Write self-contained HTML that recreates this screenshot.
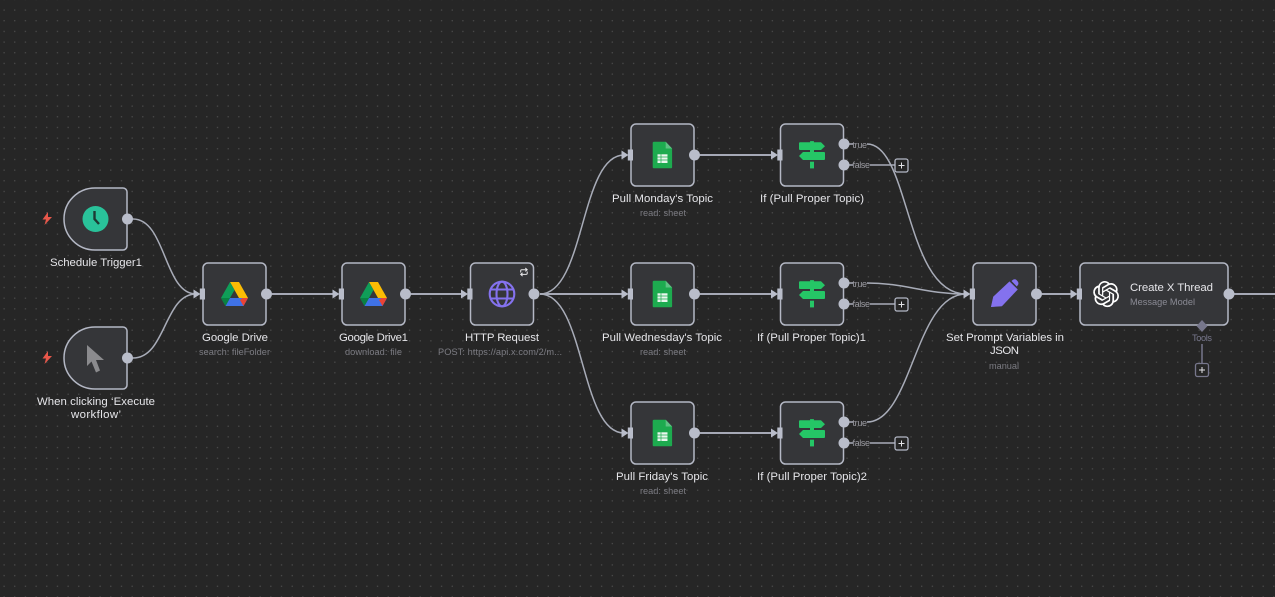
<!DOCTYPE html>
<html><head><meta charset="utf-8"><style>
html,body{margin:0;padding:0;background:#262626;width:1275px;height:597px;overflow:hidden}
svg{display:block}
text{font-family:"Liberation Sans",sans-serif}
.n{fill:#353639;stroke:#b4b8c5;stroke-width:1.5}
.l{font-size:11.4px;fill:#e6e6ea;text-anchor:middle}
.s{font-size:9.2px;fill:#7c7c83;text-anchor:middle}
.e{fill:none;stroke:#a8acb8;stroke-width:1.5}
.b{fill:none;stroke:#a6a9b6;stroke-width:2}
.p{fill:#b9bdca}
.o{font-size:9px;fill:#9c9ca3}
</style></head><body>
<svg width="1275" height="597" viewBox="0 0 1275 597" xmlns="http://www.w3.org/2000/svg">
<defs>
<pattern id="d" x="3.4" y="9.4" width="10.67" height="10.67" patternUnits="userSpaceOnUse"><circle cx="0.7" cy="0.7" r="0.65" fill="#525252"/></pattern>
<g id="inp"><path d="M-9 -4.500L-2 0L-9 4.500Z" fill="#b9bdca"/><rect x="-2.700" y="-5.500" width="5.200" height="11" fill="#b9bdca"/></g>
<g id="drive">
<path d="M-4.500 -12H4.500L13.500 4H4.500Z" fill="#fbbc04"/>
<path d="M-13.500 4L-4.500 -12L0 -4L-9 12Z" fill="#0f9d58"/>
<path d="M-4.500 4H13.500L9 12H-9Z" fill="#3f72e6"/>
<path d="M8 4H13.500L9 12L5.500 6Z" fill="#ea4335"/>
<path d="M-13.500 4L-9 12L-4.500 4Z" fill="#0a8043"/>
</g>
<g id="sheet">
<path d="M-8.500 -13.300a1.300 1.300 0 0 0 -1.300 1.300V12a1.300 1.300 0 0 0 1.300 1.300H8.300a1.300 1.300 0 0 0 1.300 -1.300V-6.500L3.200 -13.300Z" fill="#1dab4f"/>
<path d="M3.200 -13.300L9.600 -6.500H3.200Z" fill="#5fc183"/>
<rect x="-5" y="-0.700" width="10" height="8.700" fill="#e9f6ee"/>
<path d="M-5 2H5M-5 5H5M-1.500 -0.700V8" stroke="#1dab4f" stroke-width=".7"/>
</g>
<g id="sign" fill="#25c666">
<path d="M-12 -12.700H9L13 -8.800L9 -5H-12Q-13 -5 -13 -6V-11.700Q-13 -12.700 -12 -12.700Z"/>
<path d="M12 -3H-9L-13 1L-9 5H12Q13 5 13 4V-2Q13 -3 12 -3Z"/>
<rect x="-2" y="6.700" width="4" height="6.700"/>
<rect x="-2" y="-5" width="4" height="2"/>
<rect x="-2" y="-13.900" width="4" height="1.500" rx=".6"/>
</g>
</defs>
<rect width="1275" height="597" fill="#262626"/>
<rect width="1275" height="597" fill="url(#d)"/>

<!-- edges -->
<path class="e" d="M133 219C166 219 164 294 196 294"/>
<path class="e" d="M133 358C166 358 164 294 196 294"/>
<path class="b" d="M272 294H335"/>
<path class="b" d="M411 294H464"/>
<path class="e" d="M540 294C585 294 580 155 624 155"/>
<path class="b" d="M540 294H624"/>
<path class="e" d="M540 294C585 294 580 433 624 433"/>
<path class="b" d="M700 155H773"/>
<path class="b" d="M700 294H773"/>
<path class="b" d="M700 433H773"/>
<path class="e" d="M849 144H853M867 144C910 144 905 294 966 294"/>
<path class="e" d="M849 283H853M867 283C905 283 925 294 966 294" stroke-width="2"/>
<path class="e" d="M849 422H853M867 422C912 422 915 294 966 294"/>
<path class="e" d="M849 165H853M870 165H895"/>
<path class="e" d="M849 304H853M870 304H895"/>
<path class="e" d="M849 443H853M870 443H895"/>
<path class="b" d="M1042 294H1073"/>
<path class="b" d="M1234 294H1275"/>
<path d="M1202 344V363" stroke="#77778c" stroke-width="1.500"/>

<!-- trigger nodes -->
<path class="n" d="M95 188H123a4 4 0 0 1 4 4V246a4 4 0 0 1-4 4H95a31 31 0 0 1-31-31a31 31 0 0 1 31-31Z"/>
<path class="n" d="M95 327H123a4 4 0 0 1 4 4V385a4 4 0 0 1-4 4H95a31 31 0 0 1-31-31a31 31 0 0 1 31-31Z"/>
<circle cx="95.500" cy="219" r="13" fill="#29c29a"/>
<path d="M94.500 211V219L99 224" fill="none" stroke="#1d3a34" stroke-width="2.400"/>
<path d="M87 345L87 366L91.500 361.500L96 372.500L100 370.500L96 360H104Z" fill="#8b8b8e"/>
<path d="M48 212L42.500 219.500H46L44.500 225L52 217H48Z" fill="#e8574a"/>
<path d="M48 351L42.500 358.500H46L44.500 364L52 356H48Z" fill="#e8574a"/>

<!-- square nodes -->
<rect class="n" x="203" y="263" width="63" height="62" rx="5"/>
<rect class="n" x="342" y="263" width="63" height="62" rx="5"/>
<rect class="n" x="470.500" y="263" width="63" height="62" rx="5"/>
<rect class="n" x="631" y="124" width="63" height="62" rx="5"/>
<rect class="n" x="631" y="263" width="63" height="62" rx="5"/>
<rect class="n" x="631" y="402" width="63" height="62" rx="5"/>
<rect class="n" x="780.500" y="124" width="63" height="62" rx="5"/>
<rect class="n" x="780.500" y="263" width="63" height="62" rx="5"/>
<rect class="n" x="780.500" y="402" width="63" height="62" rx="5"/>
<rect class="n" x="973" y="263" width="63" height="62" rx="5"/>
<rect class="n" x="1080" y="263" width="148" height="62" rx="5"/>

<!-- icons -->
<use href="#drive" x="234.500" y="294"/>
<use href="#drive" x="373.500" y="294"/>
<g fill="none" stroke="#8472ee" stroke-width="2.100">
<circle cx="502" cy="294" r="12.300"/>
<ellipse cx="502" cy="294" rx="5.500" ry="12.300"/>
<path d="M491 289.500H513M491 298.500H513"/>
</g>
<path d="M520.700 272.500V270.800Q520.700 269.700 521.800 269.700H527M525.300 268L527.200 269.700L525.300 271.400M527.200 271.500V273.400Q527.200 274.400 526 274.400H521M522.600 272.700L520.700 274.400L522.600 276.100" fill="none" stroke="#e8e8ea" stroke-width="1"/>
<use href="#sheet" x="662.500" y="155"/>
<use href="#sheet" x="662.500" y="294"/>
<use href="#sheet" x="662.500" y="433"/>
<use href="#sign" x="812" y="155"/>
<use href="#sign" x="812" y="294"/>
<use href="#sign" x="812" y="433"/>
<path d="M991.300 306.700L993.500 296.800L1009.500 281.800L1017.300 289.500L1001.700 306Z" fill="#8472ee" stroke="#8472ee" stroke-width=".6" stroke-linejoin="round"/>
<path d="M1011.500 281L1013 279.700Q1015 278.700 1016.500 280L1018 281.800Q1019 283.800 1017.700 285.300L1016.800 286.500Z" fill="#8472ee"/>
<path transform="translate(1093,281) scale(1.09)" fill="#fff" d="M22.2819 9.8211a5.9847 5.9847 0 0 0-.5157-4.9108 6.0462 6.0462 0 0 0-6.5098-2.9A6.0651 6.0651 0 0 0 4.9807 4.1818a5.9847 5.9847 0 0 0-3.9977 2.9 6.0462 6.0462 0 0 0 .7427 7.0966 5.98 5.98 0 0 0 .511 4.9107 6.051 6.051 0 0 0 6.5146 2.9001A5.9847 5.9847 0 0 0 13.2599 24a6.0557 6.0557 0 0 0 5.7718-4.2058 5.9894 5.9894 0 0 0 3.9977-2.9001 6.0557 6.0557 0 0 0-.7475-7.0729zm-9.022 12.6081a4.4755 4.4755 0 0 1-2.8764-1.0408l.1419-.0804 4.7783-2.7582a.7948.7948 0 0 0 .3927-.6813v-6.7369l2.02 1.1686a.071.071 0 0 1 .038.052v5.5826a4.504 4.504 0 0 1-4.4945 4.4944zm-9.6607-4.1254a4.4708 4.4708 0 0 1-.5346-3.0137l.142.0852 4.783 2.7582a.7712.7712 0 0 0 .7806 0l5.8428-3.3685v2.3324a.0804.0804 0 0 1-.0332.0615L9.74 19.9502a4.4992 4.4992 0 0 1-6.1408-1.6464zM2.3408 7.8956a4.485 4.485 0 0 1 2.3655-1.9728V11.6a.7664.7664 0 0 0 .3879.6765l5.8144 3.3543-2.0201 1.1685a.0757.0757 0 0 1-.071 0l-4.8303-2.7865A4.504 4.504 0 0 1 2.3408 7.872zm16.5963 3.8558L13.1038 8.364 15.1192 7.2a.0757.0757 0 0 1 .071 0l4.8303 2.7913a4.4944 4.4944 0 0 1-.6765 8.1042v-5.6772a.79.79 0 0 0-.407-.667zm2.0107-3.0231l-.142-.0852-4.7735-2.7818a.7759.7759 0 0 0-.7854 0L9.409 9.2297V6.8974a.0662.0662 0 0 1 .0284-.0615l4.8303-2.7866a4.4992 4.4992 0 0 1 6.6802 4.66zM8.3065 12.863l-2.02-1.1638a.0804.0804 0 0 1-.038-.0567V6.0742a4.4992 4.4992 0 0 1 7.3757-3.4537l-.142.0805L8.704 5.459a.7948.7948 0 0 0-.3927.6813zm1.0976-2.3654l2.602-1.4998 2.6069 1.4998v2.9994l-2.5974 1.4997-2.6067-1.4997Z"/>

<!-- input handles -->
<use href="#inp" x="202.500" y="294"/>
<use href="#inp" x="341.500" y="294"/>
<use href="#inp" x="470" y="294"/>
<use href="#inp" x="630.500" y="155"/>
<use href="#inp" x="630.500" y="294"/>
<use href="#inp" x="630.500" y="433"/>
<use href="#inp" x="780" y="155"/>
<use href="#inp" x="780" y="294"/>
<use href="#inp" x="780" y="433"/>
<use href="#inp" x="972.500" y="294"/>
<use href="#inp" x="1079.500" y="294"/>

<!-- output handles -->
<g class="p">
<circle cx="127.500" cy="219" r="5.500"/><circle cx="127.500" cy="358" r="5.500"/>
<circle cx="266.500" cy="294" r="5.500"/><circle cx="405.500" cy="294" r="5.500"/>
<circle cx="534" cy="294" r="5.500"/>
<circle cx="694.500" cy="155" r="5.500"/><circle cx="694.500" cy="294" r="5.500"/><circle cx="694.500" cy="433" r="5.500"/>
<circle cx="844" cy="144" r="5.500"/><circle cx="844" cy="165" r="5.500"/>
<circle cx="844" cy="283" r="5.500"/><circle cx="844" cy="304" r="5.500"/>
<circle cx="844" cy="422" r="5.500"/><circle cx="844" cy="443" r="5.500"/>
<circle cx="1036.500" cy="294" r="5.500"/><circle cx="1229" cy="294" r="5.500"/>
</g>
<path d="M1202 320L1207.500 326L1202 332L1196.500 326Z" fill="#77778c"/>

<!-- plus boxes -->
<g fill="#262626" stroke="#b4b8c5" stroke-width="1.300">
<rect x="895" y="159" width="13" height="13" rx="2"/>
<rect x="895" y="298" width="13" height="13" rx="2"/>
<rect x="895" y="437" width="13" height="13" rx="2"/>
</g>
<rect x="1195.500" y="363.500" width="13" height="13" rx="2" fill="#262626" stroke="#77778c" stroke-width="1.300"/>
<path d="M898.500 165.500h6M901.500 162.500v6M898.500 304.500h6M901.500 301.500v6M898.500 443.500h6M901.500 440.500v6M1199 370h6M1202 367v6" stroke="#e4e4e8" stroke-width="1"/>

<!-- labels -->
<text class="l" x="96" y="266" textLength="92">Schedule Trigger1</text>
<text class="l" x="96" y="405" textLength="118">When clicking ‘Execute</text>
<text class="l" x="96" y="418" textLength="50">workflow’</text>
<text class="l" x="235" y="341" textLength="66">Google Drive</text>
<text class="s" x="234.500" y="355" textLength="71">search: fileFolder</text>
<text class="l" x="373.500" y="341" textLength="69">Google Drive1</text>
<text class="s" x="373.500" y="355" textLength="57">download: file</text>
<text class="l" x="502" y="341" textLength="74">HTTP Request</text>
<text class="s" x="500" y="355" textLength="124">POST: https://api.x.com/2/m...</text>
<text class="l" x="662.500" y="202" textLength="101">Pull Monday's Topic</text>
<text class="s" x="663" y="216" textLength="46">read: sheet</text>
<text class="l" x="662" y="341" textLength="120">Pull Wednesday's Topic</text>
<text class="s" x="663" y="355" textLength="46">read: sheet</text>
<text class="l" x="662" y="480" textLength="92">Pull Friday's Topic</text>
<text class="s" x="663" y="494" textLength="46">read: sheet</text>
<text class="l" x="812" y="202" textLength="104">If (Pull Proper Topic)</text>
<text class="l" x="811.500" y="341" textLength="109">If (Pull Proper Topic)1</text>
<text class="l" x="812" y="480" textLength="110">If (Pull Proper Topic)2</text>
<text class="l" x="1005" y="341" textLength="118">Set Prompt Variables in</text>
<text class="l" x="1004.500" y="354" textLength="29">JSON</text>
<text class="s" x="1004" y="369" textLength="30">manual</text>
<text class="l" x="1171.500" y="291" textLength="83">Create X Thread</text>
<text class="s" x="1162.500" y="305" textLength="65" style="fill:#8a8a94">Message Model</text>
<text class="s" x="1202" y="341" textLength="20" style="fill:#77778c">Tools</text>
<text class="o" x="852.500" y="148" textLength="14.500">true</text>
<text class="o" x="852.500" y="168" textLength="17.500">false</text>
<text class="o" x="852.500" y="287" textLength="14.500">true</text>
<text class="o" x="852.500" y="307" textLength="17.500">false</text>
<text class="o" x="852.500" y="426" textLength="14.500">true</text>
<text class="o" x="852.500" y="446" textLength="17.500">false</text>
</svg>
</body></html>
